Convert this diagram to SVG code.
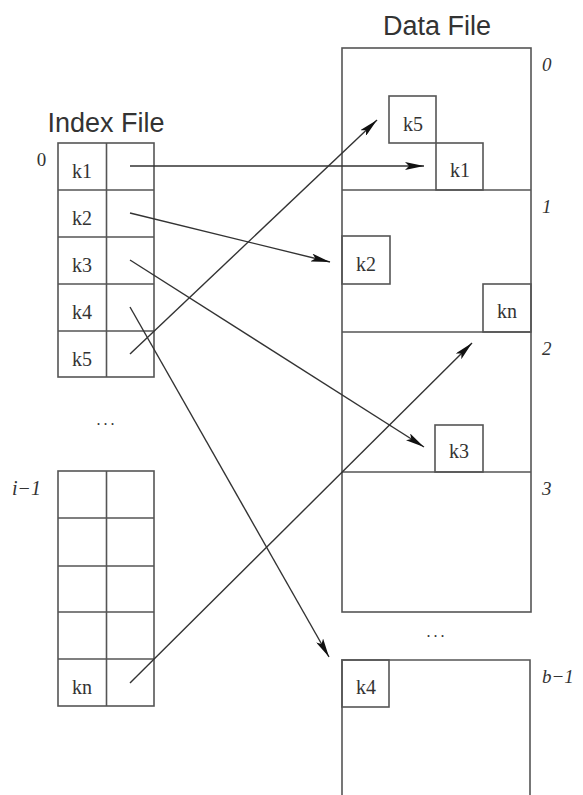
<svg xmlns="http://www.w3.org/2000/svg" width="583" height="795" viewBox="0 0 583 795">
<style>
.box{fill:none;stroke:#555;stroke-width:1.6}
.t{font-family:"Liberation Serif",serif;font-size:20px;fill:#333;text-anchor:middle}
.it{font-family:"Liberation Serif",serif;font-size:19px;font-style:italic;fill:#333}
.h{font-family:"Liberation Sans",sans-serif;font-size:27px;fill:#333;text-anchor:middle}
.c{stroke:#333;stroke-width:1.4;fill:none;marker-end:url(#ah)}
</style>
<defs>
<marker id="ah" viewBox="0 0 19 8" refX="19" refY="4" markerWidth="19" markerHeight="8" markerUnits="userSpaceOnUse" orient="auto">
<path d="M0,0 L19,4 L0,8 L4,4 Z" fill="#111"/>
</marker>
</defs>
<rect width="583" height="795" fill="#fff"/>
<g id="index-title"><text class="h" x="106" y="132">Index File</text></g>
<g id="data-title"><text class="h" x="437" y="35">Data File</text></g>
<g id="index-top">
<text class="t" x="41.5" y="166" style="font-size:19px">0</text>
<rect class="box" x="58" y="143" width="96" height="234"/>
<line class="box" x1="106.5" y1="143" x2="106.5" y2="377"/>
<line class="box" x1="58" y1="190" x2="154" y2="190"/>
<line class="box" x1="58" y1="237" x2="154" y2="237"/>
<line class="box" x1="58" y1="284" x2="154" y2="284"/>
<line class="box" x1="58" y1="331" x2="154" y2="331"/>
<text class="t" x="82" y="178">k1</text>
<text class="t" x="82" y="225">k2</text>
<text class="t" x="82" y="272">k3</text>
<text class="t" x="82" y="319">k4</text>
<text class="t" x="82" y="366">k5</text>
</g>
<g id="index-dots"><text class="t" x="107" y="425" style="font-size:16px;letter-spacing:3px">...</text></g>
<g id="index-bottom">
<text class="it" x="12" y="495" style="font-size:20px">i−1</text>
<rect class="box" x="58" y="471" width="96" height="235"/>
<line class="box" x1="106.5" y1="471" x2="106.5" y2="706"/>
<line class="box" x1="58" y1="518" x2="154" y2="518"/>
<line class="box" x1="58" y1="566" x2="154" y2="566"/>
<line class="box" x1="58" y1="612" x2="154" y2="612"/>
<line class="box" x1="58" y1="659" x2="154" y2="659"/>
<text class="t" x="82" y="694">kn</text>
</g>
<g id="data-file">
<rect class="box" x="342" y="48" width="189" height="564"/>
<line class="box" x1="342" y1="190" x2="531" y2="190"/>
<line class="box" x1="342" y1="332" x2="531" y2="332"/>
<line class="box" x1="342" y1="472" x2="531" y2="472"/>
<text class="it" x="542" y="71">0</text>
<text class="it" x="542" y="213">1</text>
<text class="it" x="542" y="355">2</text>
<text class="it" x="542" y="495">3</text>
</g>
<g id="k5"><rect class="box" x="389" y="96" width="47" height="47"/><text class="t" x="413" y="131">k5</text></g>
<g id="k1"><rect class="box" x="436" y="143" width="47" height="47"/><text class="t" x="460" y="177">k1</text></g>
<g id="k2"><rect class="box" x="342" y="236" width="48" height="48"/><text class="t" x="366" y="271">k2</text></g>
<g id="kn"><rect class="box" x="483" y="284" width="48" height="48"/><text class="t" x="507" y="318">kn</text></g>
<g id="k3"><rect class="box" x="435" y="425" width="48" height="47"/><text class="t" x="459" y="458">k3</text></g>
<g id="data-dots"><text class="t" x="437" y="637" style="font-size:16px;letter-spacing:3px">...</text></g>
<g id="data-bucket-b">
<path class="box" d="M342,800 V660 H530 V800"/>
<text class="it" x="542" y="683">b−1</text>
</g>
<g id="k4"><rect class="box" x="342" y="660" width="47" height="47"/><text class="t" x="366" y="694">k4</text></g>
<g id="connectors">
<line class="c" x1="130" y1="166" x2="424" y2="166"/>
<line class="c" x1="130" y1="213" x2="330" y2="262"/>
<line class="c" x1="130" y1="260" x2="424" y2="447"/>
<line class="c" x1="130" y1="307" x2="329" y2="657"/>
<line class="c" x1="130" y1="354" x2="377" y2="120"/>
<line class="c" x1="130" y1="683" x2="472" y2="343"/>
</g>
</svg>
